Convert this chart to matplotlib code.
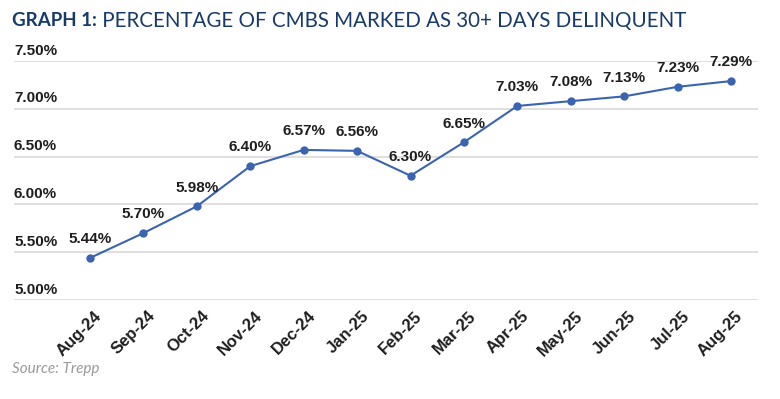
import matplotlib
matplotlib.use("Agg")
import matplotlib.pyplot as plt
from matplotlib.transforms import ScaledTranslation

months = ["Aug-24", "Sep-24", "Oct-24", "Nov-24", "Dec-24", "Jan-25", "Feb-25",
          "Mar-25", "Apr-25", "May-25", "Jun-25", "Jul-25", "Aug-25"]
delinquency = [5.44, 5.70, 5.98, 6.40, 6.57, 6.56, 6.30, 6.65, 7.03, 7.08, 7.13, 7.23, 7.29]
yticks = [5.00, 5.50, 6.00, 6.50, 7.00, 7.50]
title_bold = "GRAPH 1:"
title_rest = " PERCENTAGE OF CMBS MARKED AS 30+ DAYS DELINQUENT"
source = "Source: Trepp"

LINE = "#3a64b0"
NAVY = "#173a6b"
TXT = "#1e1e1e"

fig = plt.figure(figsize=(7.8, 3.99), dpi=100)
ax = fig.add_axes([14/780, 1 - 300/399, (758-14)/780, (300-61)/399])

x = list(range(len(months)))
ax.plot(x, delinquency, color=LINE, lw=1.5, marker="o", ms=5, zorder=3)

for xi, v in zip(x, delinquency):
    ax.annotate(f"{v:.2f}%", (xi, v), xytext=(0, 13.5), textcoords="offset points",
                ha="center", va="center", fontsize=11, fontweight="bold",
                color=TXT, family="Liberation Sans")

ax.set_xlim(-1.423, 12.505)
ax.set_ylim(5.0, 7.5)
ax.set_yticks(yticks)
ax.set_yticklabels([])
ax.tick_params(axis="y", length=0)
ax.grid(axis="y", color="#dcdcdc", lw=1.3)
ax.set_axisbelow(True)
for s in ax.spines.values():
    s.set_visible(False)

ytrans = ax.get_yaxis_transform() + ScaledTranslation(0, 2.5/72, fig.dpi_scale_trans)
for t in yticks:
    ax.text(0, t, f"{t:.2f}%", transform=ytrans, ha="left", va="bottom",
            fontsize=11, fontweight="bold", color=TXT, family="Liberation Sans")

ax.set_xticks(x)
ax.set_xticklabels(months, rotation=45, ha="right", rotation_mode="anchor",
                   fontsize=12, fontweight="bold", color=TXT, family="Liberation Sans")
ax.tick_params(axis="x", length=0, pad=6)
for lbl in ax.get_xticklabels():
    lbl.set_transform(lbl.get_transform() + ScaledTranslation(3/72, 0, fig.dpi_scale_trans))

t1 = fig.text(12/780, 1 - 21/399, title_bold, ha="left", va="center", fontsize=13.5,
              fontweight="bold", color=NAVY, family="Lato")
fig.canvas.draw()
bb = t1.get_window_extent()
t2 = fig.text(bb.x1/780, 1 - 21/399, title_rest, ha="left", va="center", fontsize=13.5,
              color=NAVY, family="Lato")
fig.canvas.draw()
w = t2.get_window_extent().width
t2.set_fontsize(13.5 * (688 - bb.x1) / w)

fig.text(12/780, 1 - 369/399, source, ha="left", va="center", fontsize=11,
         style="italic", color="#9a9a9a", family="Lato")

fig.savefig("out.png", dpi=100)
